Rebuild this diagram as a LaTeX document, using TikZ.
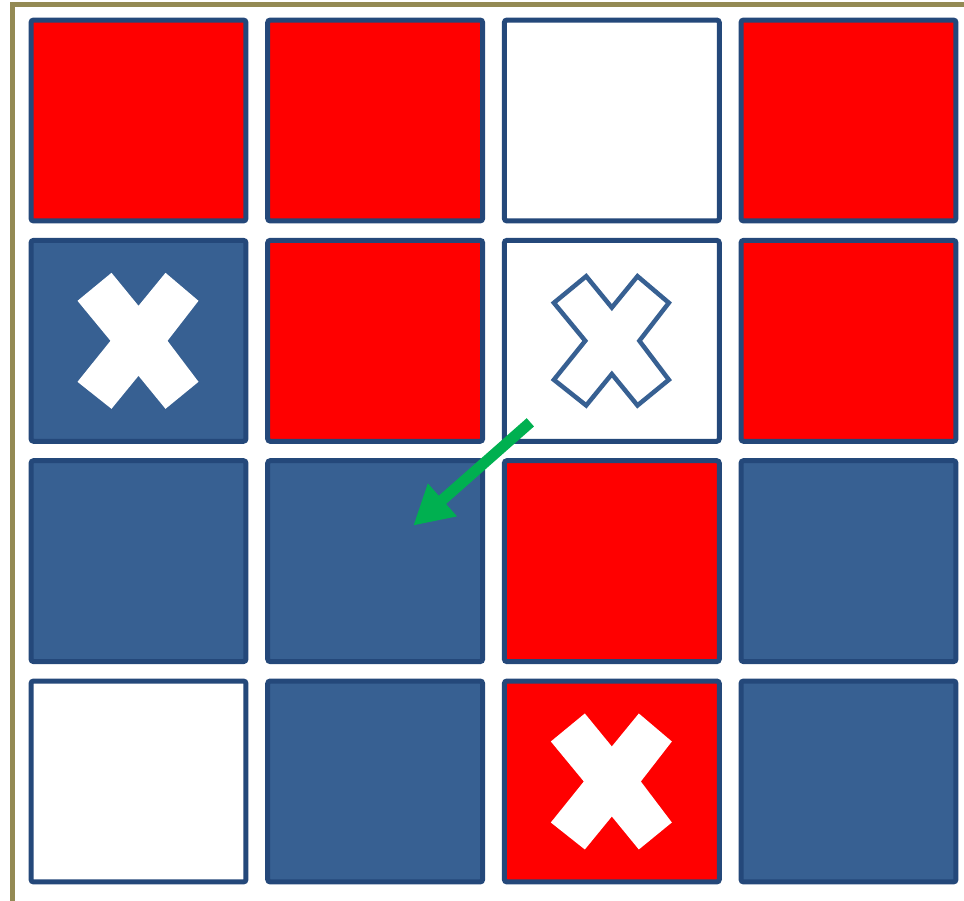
\documentclass[tikz,border=0pt]{standalone}
\usetikzlibrary{arrows.meta}
\usetikzlibrary{positioning}

\definecolor{frameolive}{RGB}{148,138,84}
\definecolor{cellblue}{RGB}{55,96,146}
\definecolor{celledge}{RGB}{36,72,122}
\definecolor{moveg}{RGB}{0,176,80}

\tikzset{
  cell/.style={draw=celledge, line width=0.1cm, rounded corners=1.5pt, inner sep=0pt,
               minimum width=4.30cm, minimum height=4.02cm},
  redcell/.style={cell, fill=red},
  bluecell/.style={cell, fill=cellblue},
  whitecell/.style={cell, fill=white},
  xmark/.pic={\path[pic actions] (-27,-68) -- (0,-35) -- (27,-68) -- (60,-40) -- (29,0) -- (60,41)
     -- (27,68) -- (0,35) -- (-27,68) -- (-61,41) -- (-28,0) -- (-61,-40) -- cycle;}
}

\begin{document}
\begin{tikzpicture}[x=0.02cm, y=-0.02cm]
\useasboundingbox (0,0) rectangle (964,901);

% outer frame, cut off at right and bottom
\draw[frameolive, line width=0.1cm] (12.5,960) -- (12.5,5) -- (1000,5);

\foreach \r/\c/\kind in {1/1/redcell, 1/2/redcell, 1/3/whitecell, 1/4/redcell,
                         2/1/bluecell, 2/2/redcell, 2/3/whitecell, 2/4/redcell,
                         3/1/bluecell, 3/2/bluecell, 3/3/redcell, 3/4/bluecell,
                         4/1/whitecell, 4/2/bluecell, 4/3/redcell, 4/4/bluecell}
    \node[\kind] (cell-\r-\c) at ({138.5+236.67*(\c-1)}, {120.5+220.33*(\r-1)}) {};

\pic[fill=white] at (cell-2-1) {xmark};
\pic[draw=cellblue, line width=0.09cm, fill=white, scale=0.95] at (cell-2-3) {xmark};
\pic[fill=white] at (cell-4-3) {xmark};

\coordinate (from) at ([shift={(-81.5,81.5)}]cell-2-3.center);
\coordinate (to) at ([shift={(38,-35.5)}]cell-3-2.center);
\draw[moveg, line width=0.22cm, -{Triangle[width=0.82cm, length=0.78cm]}] (from) -- (to);
\end{tikzpicture}
\end{document}
